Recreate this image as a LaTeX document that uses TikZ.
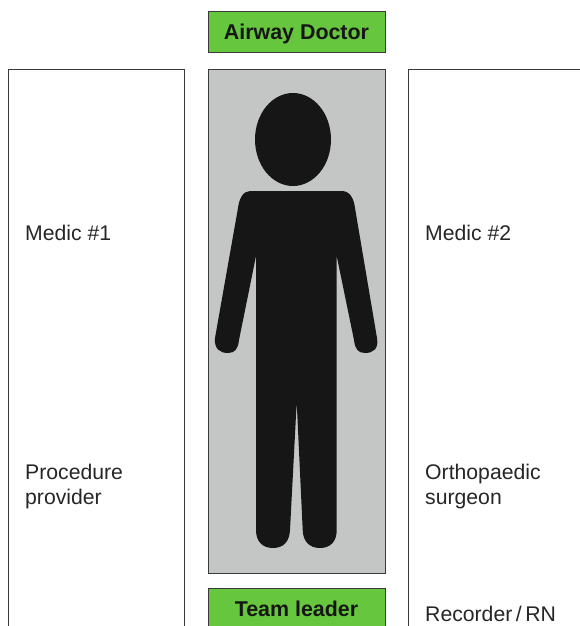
\documentclass[tikz,border=0pt]{standalone}
\usepackage{fontspec}
\setmainfont{Liberation Sans}
\usetikzlibrary{positioning}
\definecolor{rolegreen}{HTML}{66C63E}
\definecolor{baygrey}{HTML}{C4C6C5}
\definecolor{boxborder}{HTML}{3A3A3A}
\definecolor{figureblack}{HTML}{161616}
\begin{document}
\begin{tikzpicture}[
      x=1pt, y=-1pt,
      base/.style={draw=boxborder, line width=0.9pt, inner sep=0pt},
      rolebox/.style={base, fill=rolegreen, minimum width=177pt,
        minimum height=41pt, text=figureblack, text height=15pt, text depth=0pt,
        font=\fontsize{21.4}{25}\selectfont\bfseries},
      sidebox/.style={base, fill=white, minimum width=176pt,
        minimum height=575pt},
      bay/.style={base, fill=baygrey, minimum width=177pt,
        minimum height=504pt},
      role/.style={anchor=west, inner sep=0pt, align=left,
        text=black!85, font=\fontsize{21.2}{25}\selectfont}
    ]
      \useasboundingbox (0,0) rectangle (580,626);
      \clip (0,0) rectangle (580,626);
      \node[bay] (patient) at (296.5,321) {};
      \node[rolebox, above=15.5pt of patient] (airway) {Airway Doctor};
      \node[rolebox, below=15pt of patient] (leader) {Team leader};
      \node[sidebox, left=23pt of patient.north west, anchor=north east] (leftside) {};
      \node[sidebox, right=22.5pt of patient.north east, anchor=north west] (rightside) {};
      % labels down the two sides
      \node[role] (medicone) at (25,233) {Medic \#1};
      \node[role] (provider) at (25,486.5) {Procedure\\provider};
      \node[role] (medictwo) at (425,233) {Medic \#2};
      \node[role] (surgeon) at (425,486.5) {Orthopaedic\\surgeon};
      \node[role] (recorder) at (425,614) {Recorder\,/\,RN};
      % patient figure
      \fill[figureblack] (293,139.5) ellipse [x radius=38, y radius=46.5];
      \fill[figureblack] (250,191) -- (342,191)
        .. controls (350,191) and (354,199) .. (355,208)
        -- (377,338)
        .. controls (379,349) and (373,353) .. (365,353)
        .. controls (358,353) and (355,349) .. (354,340)
        -- (336.7,256) -- (336.7,530)
        .. controls (336.7,541) and (331,548) .. (320,548)
        .. controls (309,548) and (303,541) .. (302.7,530)
        -- (296.7,402) -- (290,530)
        .. controls (289.5,541) and (284,548) .. (273,548)
        .. controls (262,548) and (256,541) .. (256,530)
        -- (256,256) -- (239,340)
        .. controls (238,349) and (235,353) .. (228,353)
        .. controls (220,353) and (214,349) .. (215,338)
        -- (238,208)
        .. controls (239,199) and (243,191) .. (250,191) -- cycle;
    \end{tikzpicture}
\end{document}
